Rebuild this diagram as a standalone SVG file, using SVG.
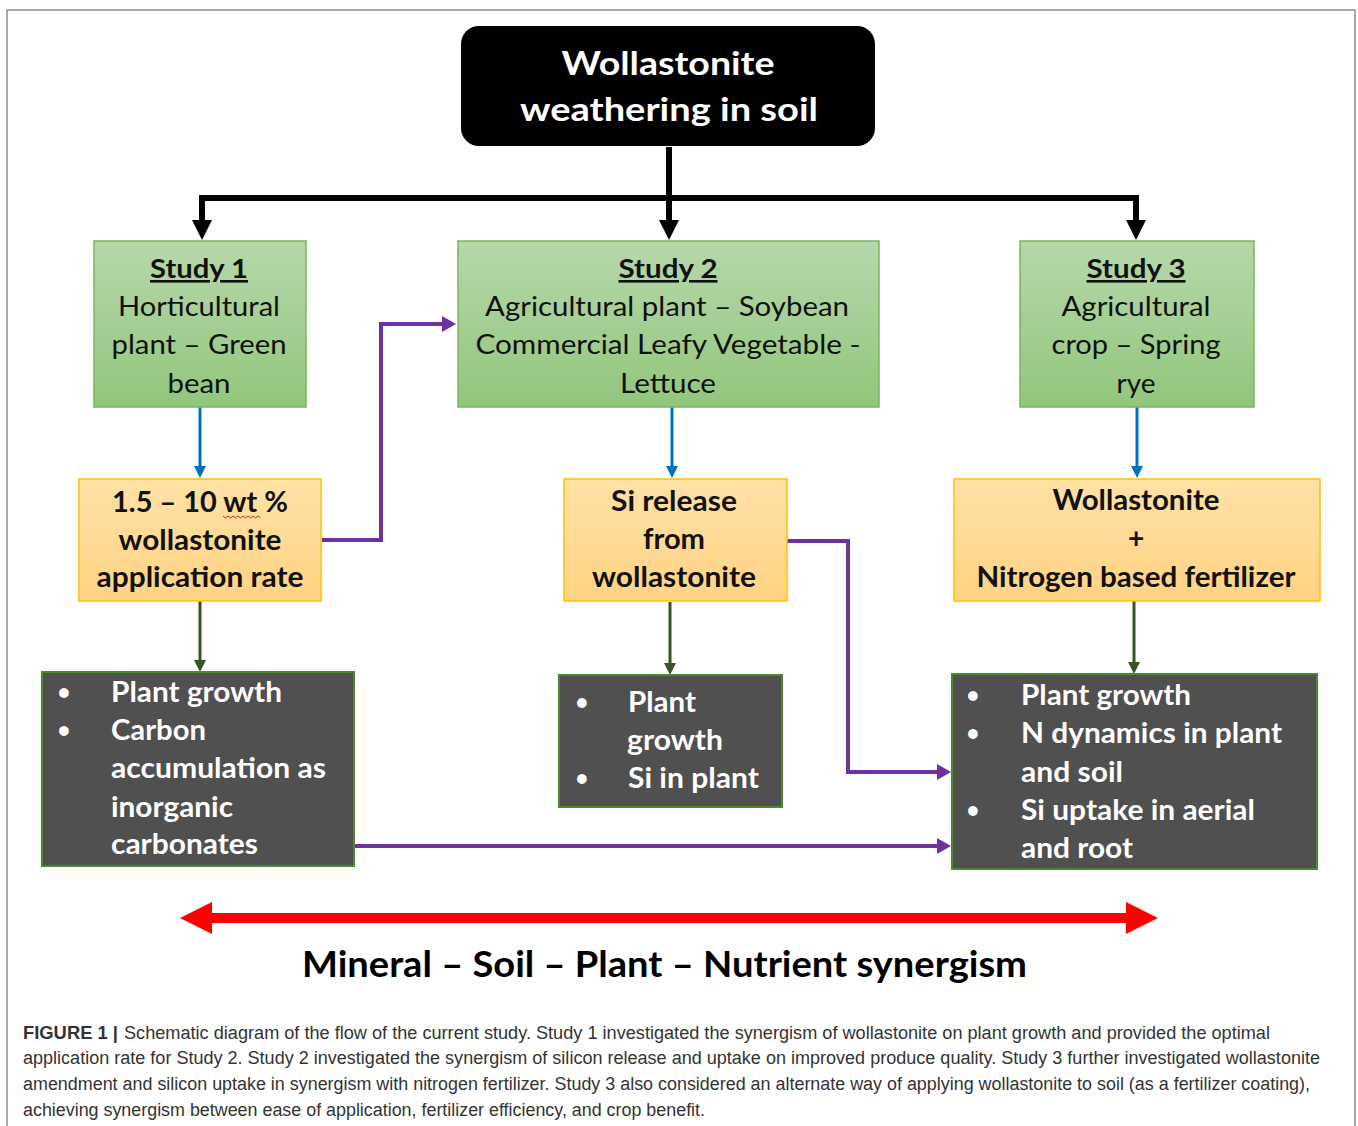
<svg xmlns="http://www.w3.org/2000/svg" width="1358" height="1126" viewBox="0 0 1358 1126">
<style>
.t{font-family:Lato,"Liberation Sans",sans-serif;}
.title{font-family:Lato,"Liberation Sans",sans-serif;font-weight:bold;font-size:32px;fill:#fff;text-anchor:middle;}
.st{font-family:Lato,"Liberation Sans",sans-serif;font-size:26px;fill:#111;text-anchor:middle;}
.stb{font-weight:bold;text-decoration:underline;}
.ob{font-family:Lato,"Liberation Sans",sans-serif;font-weight:bold;font-size:28px;fill:#111;text-anchor:middle;}
.db{font-family:Lato,"Liberation Sans",sans-serif;font-weight:bold;font-size:28px;fill:#fff;}
.bul{font-family:Lato,"Liberation Sans",sans-serif;font-weight:bold;font-size:22px;fill:#fff;text-anchor:middle;}
.green{fill:url(#gGreen);stroke:#7ab55c;stroke-width:1.5;}
.orange{fill:url(#gOrange);stroke:#ffc000;stroke-width:1.5;}
.dark{fill:#505050;stroke:#4a8a2a;stroke-width:2;}
.cap{font-family:"Liberation Sans",Arial,sans-serif;font-size:18px;fill:#333;}
.blk{fill:none;stroke:#000;stroke-width:6;}
.blue{fill:none;stroke:#0070c0;stroke-width:3;}
.dg{fill:none;stroke:#375623;stroke-width:3;}
.pur{fill:none;stroke:#7030a0;stroke-width:4;}
.red{fill:none;stroke:#ff0000;stroke-width:10;}
</style>
<defs>
<linearGradient id="gGreen" x1="0" y1="0" x2="0" y2="1">
<stop offset="0" stop-color="#b7d8aa"/><stop offset="1" stop-color="#92c67c"/>
</linearGradient>
<linearGradient id="gOrange" x1="0" y1="0" x2="0" y2="1">
<stop offset="0" stop-color="#ffe2a6"/><stop offset="1" stop-color="#ffd383"/>
</linearGradient>
<marker id="mBlk" markerUnits="userSpaceOnUse" viewBox="0 0 20 20" markerWidth="20" markerHeight="20" refX="0" refY="10" orient="auto-start-reverse"><path d="M0,0 L20,10 L0,20 z" fill="#000"/></marker>
<marker id="mBlue" markerUnits="userSpaceOnUse" viewBox="0 0 12 12" markerWidth="12" markerHeight="12" refX="0" refY="6" orient="auto"><path d="M0,0 L12,6 L0,12 z" fill="#0070c0"/></marker>
<marker id="mDg" markerUnits="userSpaceOnUse" viewBox="0 0 12 12" markerWidth="12" markerHeight="12" refX="0" refY="6" orient="auto"><path d="M0,0 L12,6 L0,12 z" fill="#375623"/></marker>
<marker id="mPur" markerUnits="userSpaceOnUse" viewBox="0 0 14 16" markerWidth="14" markerHeight="16" refX="0" refY="8" orient="auto"><path d="M0,0 L14,8 L0,16 z" fill="#7030a0"/></marker>
<marker id="mRed" markerUnits="userSpaceOnUse" viewBox="0 0 32 32" markerWidth="32" markerHeight="32" refX="0" refY="16" orient="auto-start-reverse"><path d="M0,0 L32,16 L0,32 z" fill="#ff0000"/></marker>
</defs>

<rect x="0" y="0" width="1358" height="1126" fill="#fff"/>
<path d="M7,1126 V10 H1355 V1126" fill="none" stroke="#8a8a8a" stroke-width="1.5"/>

<g id="connectors">
<path class="blk" d="M669,147 V220" marker-end="url(#mBlk)"/>
<path class="blk" d="M202,220 V198 H1136 V220" marker-start="url(#mBlk)" marker-end="url(#mBlk)"/>
<path class="blue" d="M200,407 V466" marker-end="url(#mBlue)"/>
<path class="blue" d="M672,407 V466" marker-end="url(#mBlue)"/>
<path class="blue" d="M1137,407 V466" marker-end="url(#mBlue)"/>
<path class="dg" d="M200,601 V660" marker-end="url(#mDg)"/>
<path class="dg" d="M670,602 V663" marker-end="url(#mDg)"/>
<path class="dg" d="M1134,601 V662" marker-end="url(#mDg)"/>
<path class="pur" d="M322,540 H381 V324 H442" marker-end="url(#mPur)"/>
<path class="pur" d="M787,541 H848 V772 H937" marker-end="url(#mPur)"/>
<path class="pur" d="M354,846 H937" marker-end="url(#mPur)"/>
<path class="red" d="M212,918 H1126" marker-start="url(#mRed)" marker-end="url(#mRed)"/>
</g>

<g id="title">
<rect x="461" y="26" width="414" height="120" rx="18" fill="#000"/>
<text class="title" x="668" y="75" textLength="213" lengthAdjust="spacingAndGlyphs">Wollastonite</text>
<text class="title" x="669" y="121" textLength="298" lengthAdjust="spacingAndGlyphs">weathering in soil</text>
</g>

<g id="study1">
<rect class="green" x="94" y="241" width="212" height="166"/>
<text class="st stb" x="199" y="278" textLength="98" lengthAdjust="spacingAndGlyphs">Study 1</text>
<text class="st" x="199" y="316" textLength="162" lengthAdjust="spacingAndGlyphs">Horticultural</text>
<text class="st" x="199" y="354" textLength="175" lengthAdjust="spacingAndGlyphs">plant – Green</text>
<text class="st" x="199" y="393" textLength="63" lengthAdjust="spacingAndGlyphs">bean</text>
</g>

<g id="study2">
<rect class="green" x="458" y="241" width="421" height="166"/>
<text class="st stb" x="668" y="278" textLength="99" lengthAdjust="spacingAndGlyphs">Study 2</text>
<text class="st" x="667" y="316" textLength="364" lengthAdjust="spacingAndGlyphs">Agricultural plant – Soybean</text>
<text class="st" x="668" y="354" textLength="385" lengthAdjust="spacingAndGlyphs">Commercial Leafy Vegetable -</text>
<text class="st" x="668" y="393" textLength="96" lengthAdjust="spacingAndGlyphs">Lettuce</text>
</g>

<g id="study3">
<rect class="green" x="1020" y="241" width="234" height="166"/>
<text class="st stb" x="1136" y="278" textLength="99" lengthAdjust="spacingAndGlyphs">Study 3</text>
<text class="st" x="1136" y="316" textLength="149" lengthAdjust="spacingAndGlyphs">Agricultural</text>
<text class="st" x="1136" y="354" textLength="169" lengthAdjust="spacingAndGlyphs">crop – Spring</text>
<text class="st" x="1136" y="393" textLength="39" lengthAdjust="spacingAndGlyphs">rye</text>
</g>

<g id="rate1">
<rect class="orange" x="79" y="479" width="242" height="122"/>
<text class="ob" x="200" y="512" textLength="176" lengthAdjust="spacingAndGlyphs">1.5 – 10 wt %</text>
<path d="M223,516 l2.5,2 l2.5,-2 l2.5,2 l2.5,-2 l2.5,2 l2.5,-2 l2.5,2 l2.5,-2 l2.5,2 l2.5,-2 l2.5,2 l2.5,-2 l2.5,2 l2.5,-2 l2.5,2" fill="none" stroke="#e02020" stroke-width="1"/>
<text class="ob" x="200" y="550" textLength="163" lengthAdjust="spacingAndGlyphs">wollastonite</text>
<text class="ob" x="200" y="587" textLength="207" lengthAdjust="spacingAndGlyphs">application rate</text>
</g>

<g id="release2">
<rect class="orange" x="564" y="479" width="223" height="122"/>
<text class="ob" x="674" y="511" textLength="126" lengthAdjust="spacingAndGlyphs">Si release</text>
<text class="ob" x="674" y="549" textLength="62" lengthAdjust="spacingAndGlyphs">from</text>
<text class="ob" x="674" y="587" textLength="164" lengthAdjust="spacingAndGlyphs">wollastonite</text>
</g>

<g id="fert3">
<rect class="orange" x="954" y="479" width="366" height="122"/>
<text class="ob" x="1136" y="510" textLength="167" lengthAdjust="spacingAndGlyphs">Wollastonite</text>
<text class="ob" x="1136" y="548">+</text>
<text class="ob" x="1136" y="587" textLength="319" lengthAdjust="spacingAndGlyphs">Nitrogen based fertilizer</text>
</g>

<g id="result1">
<rect class="dark" x="42" y="672" width="312" height="194"/>
<text class="bul" x="64" y="700">•</text>
<text class="bul" x="64" y="738">•</text>
<text class="db" x="111" y="702" textLength="171" lengthAdjust="spacingAndGlyphs">Plant growth</text>
<text class="db" x="111" y="740" textLength="95" lengthAdjust="spacingAndGlyphs">Carbon</text>
<text class="db" x="111" y="778" textLength="215" lengthAdjust="spacingAndGlyphs">accumulation as</text>
<text class="db" x="111" y="817" textLength="122" lengthAdjust="spacingAndGlyphs">inorganic</text>
<text class="db" x="111" y="854" textLength="147" lengthAdjust="spacingAndGlyphs">carbonates</text>
</g>

<g id="result2">
<rect class="dark" x="559" y="675" width="223" height="132"/>
<text class="bul" x="582" y="710">•</text>
<text class="bul" x="582" y="786">•</text>
<text class="db" x="628" y="712" textLength="68" lengthAdjust="spacingAndGlyphs">Plant</text>
<text class="db" x="627" y="750" textLength="96" lengthAdjust="spacingAndGlyphs">growth</text>
<text class="db" x="628" y="788" textLength="131" lengthAdjust="spacingAndGlyphs">Si in plant</text>
</g>

<g id="result3">
<rect class="dark" x="952" y="674" width="365" height="195"/>
<text class="bul" x="973" y="703">•</text>
<text class="bul" x="973" y="741">•</text>
<text class="bul" x="973" y="818">•</text>
<text class="db" x="1021" y="705" textLength="170" lengthAdjust="spacingAndGlyphs">Plant growth</text>
<text class="db" x="1021" y="743" textLength="261" lengthAdjust="spacingAndGlyphs">N dynamics in plant</text>
<text class="db" x="1021" y="782" textLength="102" lengthAdjust="spacingAndGlyphs">and soil</text>
<text class="db" x="1021" y="820" textLength="234" lengthAdjust="spacingAndGlyphs">Si uptake in aerial</text>
<text class="db" x="1021" y="858" textLength="112" lengthAdjust="spacingAndGlyphs">and root</text>
</g>

<g id="synergism">
<text class="t" x="302" y="977" font-size="36" font-weight="bold" fill="#000" textLength="725" lengthAdjust="spacingAndGlyphs">Mineral – Soil – Plant – Nutrient synergism</text>
</g>

<g id="caption">
<text class="cap" x="23" y="1039" font-weight="bold" fill="#222" textLength="95" lengthAdjust="spacingAndGlyphs">FIGURE 1 |</text>
<text class="cap" x="124" y="1039" textLength="1146" lengthAdjust="spacingAndGlyphs">Schematic diagram of the flow of the current study. Study 1 investigated the synergism of wollastonite on plant growth and provided the optimal</text>
<text class="cap" x="23" y="1064" textLength="1297" lengthAdjust="spacingAndGlyphs">application rate for Study 2. Study 2 investigated the synergism of silicon release and uptake on improved produce quality. Study 3 further investigated wollastonite</text>
<text class="cap" x="23" y="1090" textLength="1287" lengthAdjust="spacingAndGlyphs">amendment and silicon uptake in synergism with nitrogen fertilizer. Study 3 also considered an alternate way of applying wollastonite to soil (as a fertilizer coating),</text>
<text class="cap" x="23" y="1116" textLength="682" lengthAdjust="spacingAndGlyphs">achieving synergism between ease of application, fertilizer efficiency, and crop benefit.</text>
</g>
</svg>
